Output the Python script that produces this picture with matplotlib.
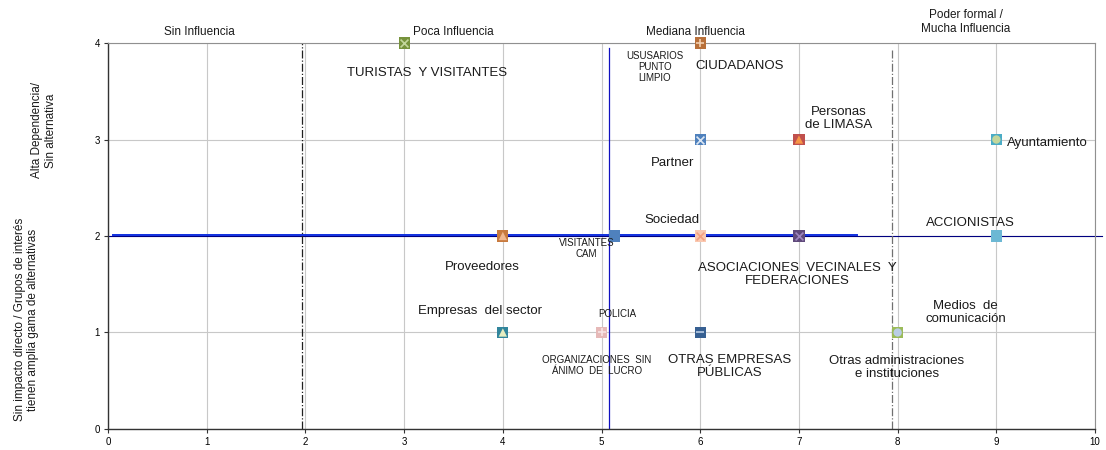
import matplotlib
matplotlib.use("Agg")
import matplotlib.pyplot as plt

plt.rcParams['font.family'] = ['Liberation Sans', 'DejaVu Sans']

# Stakeholder map: influence (x) vs. dependence (y)
names = ["TURISTAS  Y VISITANTES", "CIUDADANOS", "Partner", "Personas\nde LIMASA",
         "Ayuntamiento", "Proveedores", "VISITANTES\nCAM", "Sociedad",
         "ASOCIACIONES  VECINALES  Y\nFEDERACIONES", "ACCIONISTAS", "Empresas  del sector",
         "ORGANIZACIONES  SIN\nÁNIMO  DE  LUCRO", "OTRAS EMPRESAS\nPÚBLICAS",
         "Otras administraciones\ne instituciones"]
influence = [3, 6, 6, 7, 9, 4, 5.13, 6, 7, 9, 4, 5, 6, 8]
dependence = [4, 4, 3, 3, 3, 2, 2, 2, 2, 2, 1, 1, 1, 1]

extra_labels = ["USUSARIOS\nPUNTO\nLIMPIO", "POLICIA", "Medios  de\ncomunicación"]

zones = ["Sin Influencia", "Poca Influencia", "Mediana Influencia", "Poder formal /\nMucha Influencia"]
x_ticks = list(range(0, 11))
y_ticks = list(range(0, 5))

# marker styling: (face colour, inner symbol, inner colour)
marker_style = [
    ("#77933C", "x", "#C3D69B"),
    ("#B8703A", "+", "#F2D0B0"),
    ("#4F81BD", "x", "#DCE6F2"),
    ("#C0504D", "^", "#F79646"),
    ("#4BACC6", "o", "#C3D69B"),
    ("#C87A3E", "^", "#F0B890"),
    ("#4F81BD", None, None),
    ("#FAC8B0", "x", "#F4A080"),
    ("#604A7B", "x", "#9F86C0"),
    ("#6CB8D4", None, None),
    ("#31859C", "^", "#E6EDC0"),
    ("#E6B9B8", "+", "#F8E4E4"),
    ("#376092", "_", "#B9CDE5"),
    ("#9BBB59", "o", "#B9CDE5"),
]
label_pos = [(3.23, 3.69), (6.40, 3.76), (5.72, 2.76), (7.40, 3.22), (9.52, 2.96),
             (3.79, 1.68), (4.85, 1.87), (5.71, 2.17), (6.98, 1.60), (8.74, 2.13),
             (3.77, 1.22), (4.95, 0.66), (6.30, 0.65), (7.99, 0.64)]
label_size = [9.5, 9.5, 9.5, 9.5, 9.5, 9.5, 7, 9.5, 9.5, 9.5, 9.5, 7, 9.5, 9.5]
extra_pos = [(5.54, 3.75), (5.16, 1.19), (8.69, 1.21)]
extra_size = [7, 7, 9.5]
zone_pos = [(0.93, 4.11), (3.50, 4.11), (5.95, 4.11), (8.69, 4.22)]

fig = plt.figure(figsize=(11.06, 4.5), dpi=100)
ax = fig.add_axes([0.0977, 0.0467, 0.8924, 0.8577])
ax.set_xlim(0, 10)
ax.set_ylim(0, 4)
ax.set_xticks(x_ticks)
ax.set_yticks(y_ticks)
ax.tick_params(labelsize=7, length=3, width=0.8, color="#333333", pad=3)
ax.grid(True, color="#C8C8C8", linewidth=0.8)
ax.set_axisbelow(True)
for side in ["top", "right"]:
    ax.spines[side].set_color("#909090")
    ax.spines[side].set_linewidth(0.8)
for side in ["bottom", "left"]:
    ax.spines[side].set_color("#333333")
    ax.spines[side].set_linewidth(1.0)

# quadrant dividers
ax.plot([0, 10.07], [2.0, 2.0], color="#000080", linewidth=0.8, zorder=2, clip_on=False)
ax.plot([0.05, 7.59], [2.01, 2.01], color="#1030E0", linewidth=1.4, zorder=2)
ax.plot([5.08, 5.08], [0, 3.95], color="#1010C0", linewidth=0.9, zorder=2)
ax.plot([1.97, 1.97], [0, 4], color="#202020", linewidth=0.9, linestyle="-.", zorder=2)
ax.plot([7.94, 7.94], [0, 3.93], color="#707070", linewidth=0.9, linestyle="-.", zorder=2)

for i, name in enumerate(names):
    face, sym, inner = marker_style[i]
    ax.scatter(influence[i], dependence[i], marker="s", s=64, color=face,
               edgecolors="none", zorder=4, clip_on=False)
    if sym is not None:
        if sym in ("x", "+", "_"):
            ax.scatter(influence[i], dependence[i], marker=sym, s=32, color=inner,
                       linewidths=1.2, zorder=5, clip_on=False)
        else:
            ax.scatter(influence[i], dependence[i], marker=sym, s=36, color=inner,
                       edgecolors="none", zorder=5, clip_on=False)
    lx, ly = label_pos[i]
    ax.text(lx, ly, name, fontsize=label_size[i], color="#1A1A1A", ha="center",
            va="center", linespacing=1.15, zorder=6)

for txt, (lx, ly), fs in zip(extra_labels, extra_pos, extra_size):
    ax.text(lx, ly, txt, fontsize=fs, color="#1A1A1A", ha="center", va="center",
            linespacing=1.15, zorder=6)

for txt, (lx, ly) in zip(zones, zone_pos):
    ax.text(lx, ly, txt, fontsize=8.5, color="#1A1A1A", ha="center", va="center",
            linespacing=1.2, clip_on=False)

fig.text(0.040, 0.71, "Alta Dependencia/\nSin alternativa", rotation=90, fontsize=8.5,
         ha="center", va="center", color="#1A1A1A", linespacing=1.2)
fig.text(0.024, 0.29, "Sin impacto directo / Grupos de interés\ntienen amplia gama de alternativas",
         rotation=90, fontsize=8.5, ha="center", va="center", color="#1A1A1A", linespacing=1.2)

fig.savefig("out.png", dpi=100)
